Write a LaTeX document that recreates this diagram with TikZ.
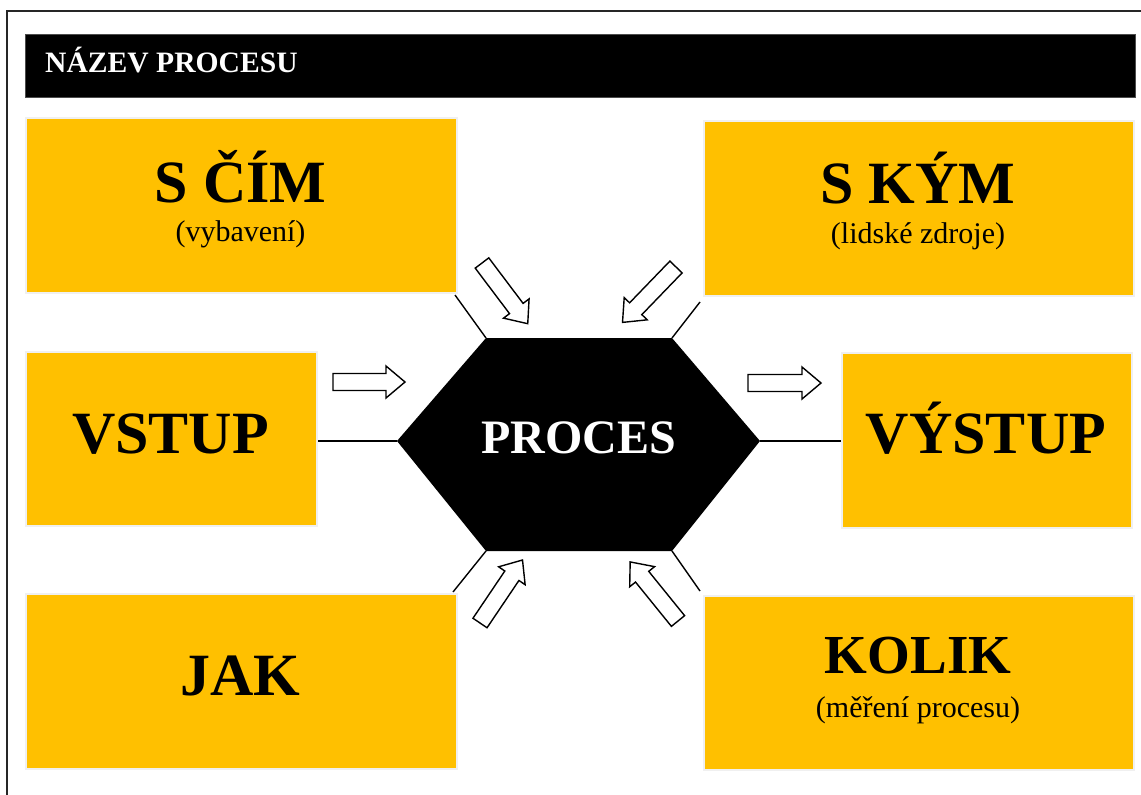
\documentclass[tikz,border=0pt]{standalone}
\usepackage{fontspec}
\setmainfont{Liberation Serif}
\usetikzlibrary{calc}
\definecolor{gold}{HTML}{FFC000}
\definecolor{rim}{HTML}{F0F0F0}
\tikzset{
  box/.style={draw=rim, line width=2pt, fill=gold, rectangle, inner sep=0pt},
  bigtext/.style={anchor=base, inner sep=0pt, font=\bfseries\fontsize{60}{70}\selectfont},
  midtext/.style={anchor=base, inner sep=0pt, font=\bfseries\fontsize{55}{64}\selectfont},
  subtext/.style={anchor=base, inner sep=0pt, font=\fontsize{30}{36}\selectfont},
  link/.style={line width=1.4pt},
  arrowline/.style={draw=black, fill=white, line width=1.4pt, line join=miter},
  pics/blockarrow/.style={code={
    \draw[arrowline] (0,-8.5) -- ({#1-19},-8.5) -- ({#1-19},-16) -- (#1,0)
      -- ({#1-19},16) -- ({#1-19},8.5) -- (0,8.5) -- cycle;}}
}
\begin{document}
\begin{tikzpicture}[x=1pt, y=-1pt]
\useasboundingbox (0,0) rectangle (1141,795);
\fill[white] (0,0) rectangle (1141,795);

% outer frame (left and top edges)
\coordinate (fa) at (7,795);
\coordinate (fb) at (7,11);
\coordinate (fc) at (1141,11);
\draw[line width=2pt, black!85] (fa) -- (fb) -- (fc);

% title bar
\node[fill=black, draw=black!70, line width=1pt, minimum width=1110pt, minimum height=63pt,
      inner sep=0pt, anchor=north west] (bar) at (25,34) {};
\node[anchor=base west, inner sep=0pt, text=white,
      font=\bfseries\fontsize{29.6}{34}\selectfont] (title) at (45,72) {NÁZEV PROCESU};

% yellow boxes
\node[box, minimum width=431pt, minimum height=175pt, anchor=north west] (scim)   at (25,117)  {};
\node[box, minimum width=430pt, minimum height=175pt, anchor=north west] (skym)   at (703,120) {};
\node[box, minimum width=291pt, minimum height=174pt, anchor=north west] (vstup)  at (25,351)  {};
\node[box, minimum width=290pt, minimum height=175pt, anchor=north west] (vystup) at (841,352) {};
\node[box, minimum width=431pt, minimum height=175pt, anchor=north west] (jak)    at (25,593)  {};
\node[box, minimum width=430pt, minimum height=174pt, anchor=north west] (kolik)  at (703,595) {};

% box labels
\node[bigtext] (t1) at (240.5,202) {S ČÍM};
\node[subtext] (s1) at (240.5,241) {(vybavení)};
\node[bigtext] (t2) at (918,203) {S KÝM};
\node[subtext] (s2) at (918,243) {(lidské zdroje)};
\node[bigtext] (t3) at (170.5,453) {VSTUP};
\node[bigtext] (t4) at (986,453) {VÝSTUP};
\node[bigtext] (t5) at (240.5,695) {JAK};
\node[midtext] (t6) at (918,673) {KOLIK};
\node[subtext] (s6) at (918,717) {(měření procesu)};

% central hexagon
\coordinate (hl)  at (397,441);
\coordinate (htl) at (486,338);
\coordinate (htr) at (672,338);
\coordinate (hr)  at (760,441);
\coordinate (hbr) at (672,551);
\coordinate (hbl) at (486,551);
\fill[black] (hl) -- (htl) -- (htr) -- (hr) -- (hbr) -- (hbl) -- cycle;
\node[anchor=base, inner sep=0pt, text=white,
      font=\bfseries\fontsize{48}{56}\selectfont] (proc) at (578.5,453) {PROCES};

% connectors from the hexagon to the boxes
\coordinate (e1) at (455,295);
\coordinate (e2) at (700,302);
\coordinate (e5) at (453,592);
\coordinate (e6) at (700,591);
\draw[link] (hl) -- (vstup.east |- hl);
\draw[link] (hr) -- (vystup.west |- hr);
\draw[link] (htl) -- (e1);
\draw[link] (htr) -- (e2);
\draw[link] (hbl) -- (e5);
\draw[link] (hbr) -- (e6);

% block arrows
\pic at (333,382) {blockarrow=72};
\pic at (748,383) {blockarrow=73};
\pic[rotate=-53] at (482,263) {blockarrow=76};
\pic[rotate=-134] at (676,267) {blockarrow=77};
\pic[rotate=56] at (480,623) {blockarrow=76};
\pic[rotate=129] at (678,621) {blockarrow=76};
\end{tikzpicture}
\end{document}
